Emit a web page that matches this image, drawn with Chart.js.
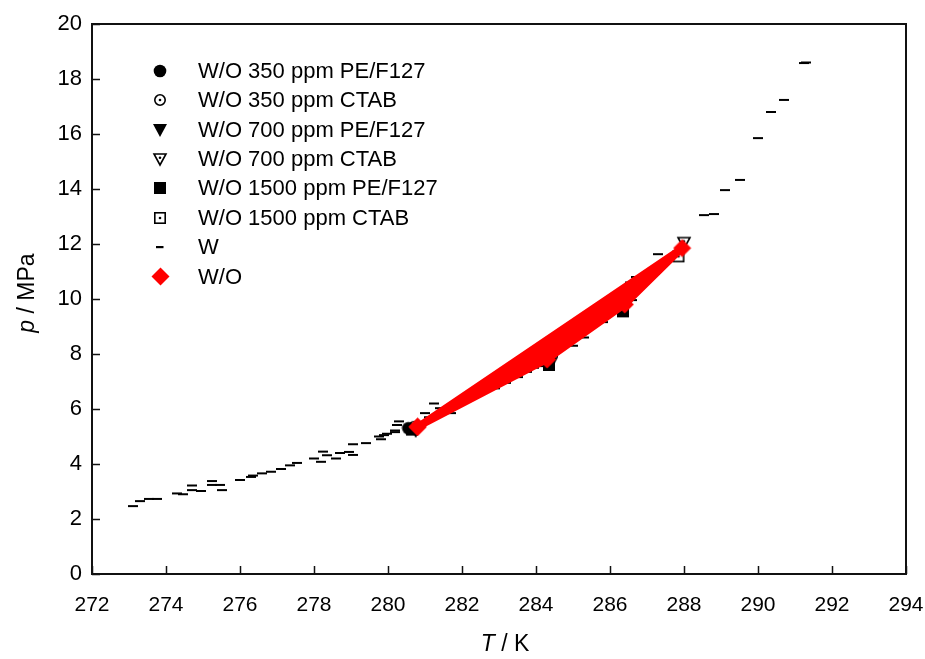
<!DOCTYPE html>
<html>
<head>
<meta charset="utf-8">
<script src="https://cdn.jsdelivr.net/npm/chart.js@4"></script>
<style>
  html, body { margin: 0; padding: 0; background: #fff; }
  #wrap { width: 925px; height: 659px; }
</style>
</head>
<body>
<div id="wrap"><canvas id="c" width="925" height="659"></canvas></div>
<script>
// Pure water hydrate equilibrium points (T / K, p / MPa)
const wT = [273.1,273.3,273.55,273.75,274.3,274.45,274.7,274.7,274.95,275.25,275.25,275.5,275.45,276.0,276.3,276.35,276.6,276.85,277.1,277.35,277.55,278.0,278.2,278.25,278.35,278.6,278.7,278.95,279.05,279.05,279.4,279.75,279.8,279.9,279.97,280.2,280.2,280.25,280.3,281.0,281.1,281.25,281.4,281.7,282.0,282.3,282.6,282.9,283.2,283.5,283.75,283.95,284.15,284.45,285.0,285.3,285.55,285.8,286.55,286.6,286.7,286.6,287.3,288.55,288.8,289.1,289.5,290.0,290.35,290.7,291.25,291.3];
const wP = [2.47,2.65,2.73,2.73,2.93,2.9,3.05,3.22,3.02,3.38,3.24,3.05,3.24,3.42,3.53,3.58,3.66,3.72,3.82,3.95,4.04,4.2,4.08,4.45,4.32,4.2,4.4,4.44,4.33,4.72,4.76,5.0,4.9,5.05,5.1,5.22,5.16,5.42,5.55,5.85,5.7,6.2,6.03,5.85,6.3,6.45,6.62,6.75,6.95,7.16,7.35,7.5,7.56,7.9,8.3,8.6,9.53,9.16,10.6,10.58,10.8,9.96,11.63,13.05,13.09,13.96,14.33,15.85,16.8,17.24,18.58,18.6];

// Emulsion (W/O) systems
const pe350T = [280.55];          const pe350P = [5.3];
const ctab350T = [280.7];         const ctab350P = [5.35];
const pe700T = [280.75, 284.4, 286.45]; const pe700P = [5.2, 7.65, 9.8];
const ctab700T = [288.0];         const ctab700P = [12.05];
const pe1500T = [280.65, 284.35, 286.35]; const pe1500P = [5.25, 7.6, 9.55];
const ctab1500T = [287.85];       const ctab1500P = [11.55];
const woT = [280.8, 284.3, 286.4, 287.95];
const woP = [5.35, 7.8, 9.8, 11.85];

const xTicks = [272,274,276,278,280,282,284,286,288,290,292,294];
const yTicks = [0,2,4,6,8,10,12,14,16,18,20];

const legendLabels = ['W/O 350 ppm PE/F127','W/O 350 ppm CTAB','W/O 700 ppm PE/F127','W/O 700 ppm CTAB','W/O 1500 ppm PE/F127','W/O 1500 ppm CTAB','W','W/O'];

function pts(xs, ys) { return xs.map((x, i) => ({ x: x, y: ys[i] })); }

// Marker glyphs drawn onto small canvases
function glyph(w, h, draw) {
  const c = document.createElement('canvas');
  c.width = w; c.height = h;
  const g = c.getContext('2d');
  g.fillStyle = '#000'; g.strokeStyle = '#000'; g.lineWidth = 1.6;
  draw(g, w, h);
  return c;
}
function dot(g, x, y) { g.beginPath(); g.arc(x, y, 1.3, 0, Math.PI * 2); g.fill(); }
const mk = {
  circleFill: glyph(14, 14, g => { g.beginPath(); g.arc(7, 7, 6.3, 0, Math.PI * 2); g.fill(); }),
  circleDot: glyph(14, 14, g => { g.beginPath(); g.arc(7, 7, 5.2, 0, Math.PI * 2); g.stroke(); dot(g, 7, 7); }),
  triFill: glyph(16, 16, g => { g.beginPath(); g.moveTo(1, 2); g.lineTo(15, 2); g.lineTo(8, 15); g.closePath(); g.fill(); }),
  triDot: glyph(16, 16, g => { g.beginPath(); g.moveTo(2, 3); g.lineTo(14, 3); g.lineTo(8, 14); g.closePath(); g.stroke(); dot(g, 8, 6.8); }),
  sqFill: glyph(14, 14, g => { g.fillRect(1, 1, 12, 12); }),
  sqDot: glyph(14, 14, g => { g.strokeRect(1.8, 1.8, 10.4, 10.4); dot(g, 7, 7); }),
  dash: glyph(10, 4, g => { g.fillRect(0, 1, 10, 2); }),
  dashKey: glyph(8, 4, g => { g.fillRect(0, 1, 7.5, 2.2); }),
  diamond: glyph(19, 19, g => {
    g.fillStyle = '#ff0000';
    g.beginPath(); g.moveTo(9.5, 0.5); g.lineTo(18.5, 9.5); g.lineTo(9.5, 18.5); g.lineTo(0.5, 9.5); g.closePath(); g.fill();
  })
};

function series(label, xs, ys, style, keyStyle) {
  return { label: label, data: pts(xs, ys), pointStyle: style, keyStyle: keyStyle || style,
           pointRadius: 5, showLine: false, order: 1 };
}

// closed outline of the W/O points, filled red
const woPath = pts(woT.concat([woT[0]]), woP.concat([woP[0]]));

const datasets = [
  series(legendLabels[0], pe350T, pe350P, mk.circleFill),
  series(legendLabels[1], ctab350T, ctab350P, mk.circleDot),
  series(legendLabels[2], pe700T, pe700P, mk.triFill),
  series(legendLabels[3], ctab700T, ctab700P, mk.triDot),
  series(legendLabels[4], pe1500T, pe1500P, mk.sqFill),
  series(legendLabels[5], ctab1500T, ctab1500P, mk.sqDot),
  series(legendLabels[6], wT, wP, mk.dash, mk.dashKey),
  {
    type: 'line', label: legendLabels[7], data: woPath,
    borderColor: '#ff0000', backgroundColor: '#ff0000', borderWidth: 7,
    borderJoinStyle: 'round', fill: 'shape', tension: 0,
    pointStyle: mk.diamond, keyStyle: mk.diamond, pointRadius: 6, order: 0
  }
];

const AREA = { left: 92, right: 906, top: 24, bottom: 574 };

const framePlugin = {
  id: 'frame',
  afterDraw(chart) {
    const ctx = chart.ctx;
    const a = chart.chartArea;
    const xs = chart.scales.x, ys = chart.scales.y;
    ctx.save();
    ctx.strokeStyle = '#111';
    ctx.lineWidth = 2;
    ctx.strokeRect(a.left, a.top, a.right - a.left, a.bottom - a.top);
    // inward tick marks
    ctx.lineWidth = 1.5;
    ctx.beginPath();
    xs.ticks.forEach((t, i) => {
      const px = Math.round(xs.getPixelForTick(i)) + 0.5;
      ctx.moveTo(px, a.bottom); ctx.lineTo(px, a.bottom - 8);
    });
    ys.ticks.forEach((t, i) => {
      const py = Math.round(ys.getPixelForTick(i)) + 0.5;
      ctx.moveTo(a.left, py); ctx.lineTo(a.left + 8, py);
    });
    ctx.stroke();

    // axis titles with italic symbols
    ctx.fillStyle = '#000';
    ctx.textBaseline = 'middle';
    const fs = 23;
    const ital = 'italic ' + fs + 'px "Liberation Sans", Arial, sans-serif';
    const norm = fs + 'px "Liberation Sans", Arial, sans-serif';
    function mixed(sym, rest, cx, cy, rot) {
      ctx.save();
      ctx.translate(cx, cy);
      ctx.rotate(rot);
      ctx.font = ital; const w1 = ctx.measureText(sym).width;
      ctx.font = norm; const w2 = ctx.measureText(rest).width;
      const x0 = -(w1 + w2) / 2;
      ctx.textAlign = 'left';
      ctx.font = ital; ctx.fillText(sym, x0, 0);
      ctx.font = norm; ctx.fillText(rest, x0 + w1, 0);
      ctx.restore();
    }
    mixed('T', ' / K', (a.left + a.right) / 2 + 6, 645, 0);
    mixed('p', ' / MPa', 28, (a.top + a.bottom) / 2 - 6, -Math.PI / 2);

    // key
    ctx.font = '22px "Liberation Sans", Arial, sans-serif';
    ctx.textAlign = 'left';
    chart.data.datasets.forEach((ds, i) => {
      const cy = 70.7 + i * 29.4;
      const img = ds.keyStyle;
      ctx.drawImage(img, Math.round(160 - img.width / 2), Math.round(cy - img.height / 2));
      ctx.fillText(ds.label, 198, cy + 1);
    });
    ctx.restore();
  }
};

new Chart(document.getElementById('c'), {
  type: 'scatter',
  data: { datasets: datasets },
  options: {
    responsive: false,
    animation: false,
    events: [],
    layout: { padding: { left: 0, right: 925 - AREA.right, top: AREA.top, bottom: 0 } },
    plugins: { legend: { display: false }, tooltip: { enabled: false } },
    scales: {
      x: {
        type: 'linear', min: xTicks[0], max: xTicks[xTicks.length - 1],
        afterBuildTicks: s => { s.ticks = xTicks.map(v => ({ value: v })); },
        afterFit: s => { s.height = 659 - AREA.bottom; s.paddingLeft = 0; s.paddingRight = 0; },
        grid: { display: false },
        border: { display: false },
        ticks: { autoSkip: false, maxRotation: 0, color: '#000', padding: 11,
                 font: { family: '"Liberation Sans", Arial, sans-serif', size: 21 } }
      },
      y: {
        type: 'linear', min: yTicks[0], max: yTicks[yTicks.length - 1],
        afterBuildTicks: s => { s.ticks = yTicks.map(v => ({ value: v })); },
        afterFit: s => { s.width = AREA.left; s.paddingTop = 0; s.paddingBottom = 0; },
        grid: { display: false },
        border: { display: false },
        ticks: { autoSkip: false, color: '#000', padding: 2,
                 font: { family: '"Liberation Sans", Arial, sans-serif', size: 22 } }
      }
    }
  },
  plugins: [framePlugin]
});
</script>
</body>
</html>
